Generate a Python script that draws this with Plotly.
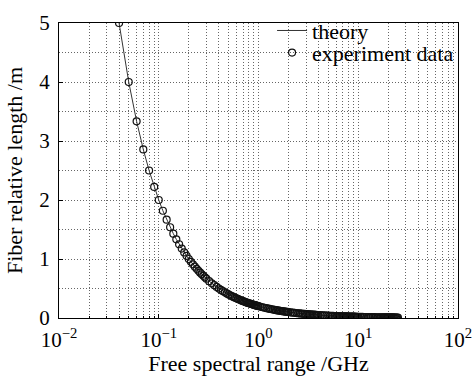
import plotly.graph_objects as go

# Experimental data: free spectral range (GHz) and fiber relative length (m)
fsr_ghz = [
    0.04, 0.05, 0.06, 0.07, 0.08, 0.09, 0.10, 0.11, 0.12, 0.13, 0.14, 0.15, 0.16, 0.17, 0.18, 0.19,
    0.20, 0.21, 0.22, 0.23, 0.24, 0.25, 0.26, 0.27, 0.28, 0.29, 0.30,
    0.32, 0.34, 0.36, 0.38, 0.40, 0.42, 0.44, 0.46, 0.48, 0.50, 0.52, 0.54, 0.56, 0.58, 0.60,
    0.62, 0.64, 0.66, 0.68, 0.70, 0.72, 0.74, 0.76, 0.78, 0.80, 0.82, 0.84, 0.86, 0.88, 0.90,
    0.92, 0.94, 0.96, 0.98, 1.00,
    1.05, 1.10, 1.15, 1.20, 1.25, 1.30, 1.35, 1.40, 1.45, 1.50, 1.55, 1.60, 1.65, 1.70, 1.75,
    1.80, 1.85, 1.90, 1.95, 2.00,
    2.1, 2.2, 2.3, 2.4, 2.5, 2.6, 2.7, 2.8, 2.9, 3.0, 3.1, 3.2, 3.3, 3.4, 3.5, 3.6, 3.7, 3.8, 3.9, 4.0,
    4.2, 4.4, 4.6, 4.8, 5.0, 5.2, 5.4, 5.6, 5.8, 6.0, 6.2, 6.4, 6.6, 6.8, 7.0, 7.2, 7.4, 7.6, 7.8,
    8.0, 8.2, 8.4, 8.6, 8.8, 9.0, 9.2, 9.4, 9.6, 9.8, 10.0,
    10.5, 11.0, 11.5, 12.0, 12.5, 13.0, 13.5, 14.0, 14.5, 15.0, 15.5, 16.0, 16.5, 17.0, 17.5,
    18.0, 18.5, 19.0, 19.5, 20.0, 20.5, 21.0, 21.5, 22.0, 22.5, 23.0, 23.5, 24.0, 24.5, 25.0,
]
length_m = [
    5.000, 4.000, 3.333, 2.857, 2.500, 2.222, 2.000, 1.818, 1.667, 1.538, 1.429, 1.333, 1.250, 1.176, 1.111, 1.053,
    1.000, 0.952, 0.909, 0.870, 0.833, 0.800, 0.769, 0.741, 0.714, 0.690, 0.667,
    0.625, 0.588, 0.556, 0.526, 0.500, 0.476, 0.455, 0.435, 0.417, 0.400, 0.385, 0.370, 0.357, 0.345, 0.333,
    0.323, 0.313, 0.303, 0.294, 0.286, 0.278, 0.270, 0.263, 0.256, 0.250, 0.244, 0.238, 0.233, 0.227, 0.222,
    0.217, 0.213, 0.208, 0.204, 0.200,
    0.190, 0.182, 0.174, 0.167, 0.160, 0.154, 0.148, 0.143, 0.138, 0.133, 0.129, 0.125, 0.121, 0.118, 0.114,
    0.111, 0.108, 0.105, 0.103, 0.100,
    0.095, 0.091, 0.087, 0.083, 0.080, 0.077, 0.074, 0.071, 0.069, 0.067, 0.065, 0.063, 0.061, 0.059, 0.057, 0.056, 0.054, 0.053, 0.051, 0.050,
    0.048, 0.045, 0.043, 0.042, 0.040, 0.038, 0.037, 0.036, 0.034, 0.033, 0.032, 0.031, 0.030, 0.029, 0.029, 0.028, 0.027, 0.026, 0.026,
    0.025, 0.024, 0.024, 0.023, 0.023, 0.022, 0.022, 0.021, 0.021, 0.020, 0.020,
    0.019, 0.018, 0.017, 0.017, 0.016, 0.015, 0.015, 0.014, 0.014, 0.013, 0.013, 0.0125, 0.012, 0.012, 0.011,
    0.011, 0.011, 0.011, 0.010, 0.010, 0.010, 0.0095, 0.0093, 0.0091, 0.0089, 0.0087, 0.0085, 0.0083, 0.0082, 0.008,
]

# Theory curve sampled at the same frequencies
theory_fsr = fsr_ghz
theory_len = length_m

x_tickvals = [0.01, 0.1, 1, 10, 100]
x_ticktext = ["10<sup>\u22122</sup>", "10<sup>\u22121</sup>", "10<sup>0</sup>", "10<sup>1</sup>", "10<sup>2</sup>"]
y_tickvals = [0, 1, 2, 3, 4, 5]

FONT = "Liberation Serif, Times New Roman, DejaVu Serif"
FS = 22
TFS = 21
GRIDC = "#666666"
DASH = "1px,2px"

fig = go.Figure()
fig.add_trace(go.Scatter(
    x=theory_fsr, y=theory_len, mode="lines", name="theory", legend="legend",
    line=dict(color="#333333", width=1),
))
fig.add_trace(go.Scatter(
    x=fsr_ghz, y=length_m, mode="markers", name="experiment data", legend="legend2",
    marker=dict(symbol="circle-open", size=7, color="#111111", line=dict(width=1.2, color="#111111")),
))

grid = dict(showgrid=True, gridcolor=GRIDC, griddash=DASH, gridwidth=1)
leg = dict(xanchor="left", yanchor="middle", bgcolor="rgba(0,0,0,0)", borderwidth=0,
           font=dict(family=FONT, size=FS, color="black"), itemwidth=30)

fig.update_layout(
    width=472, height=376,
    margin=dict(l=59, r=14, t=10, b=58),
    paper_bgcolor="white", plot_bgcolor="white",
    font=dict(family=FONT, size=FS, color="black"),
    showlegend=True,
    legend=dict(x=0.534, y=0.974, **leg),
    legend2=dict(x=0.534, y=0.899, **leg),
    xaxis=dict(
        type="log", range=[-2, 2], automargin=False,
        tickvals=x_tickvals, ticktext=x_ticktext,
        showline=True, linecolor="black", linewidth=1, mirror=True,
        ticks="inside", ticklen=4, tickcolor="black",
        zeroline=False, ticklabeloverflow="allow", ticklabelstandoff=3,
        tickfont=dict(family=FONT, size=TFS),
        title=dict(text="Free spectral range /GHz", font=dict(family=FONT, size=FS), standoff=2),
        minor=dict(dtick="D1", showgrid=True, gridcolor=GRIDC, griddash=DASH, gridwidth=1,
                   ticks="inside", ticklen=2, tickcolor="black"),
        **grid,
    ),
    yaxis=dict(
        range=[0, 5], automargin=False,
        tickvals=y_tickvals,
        showline=True, linecolor="black", linewidth=1, mirror=True,
        ticks="inside", ticklen=4, tickcolor="black",
        zeroline=False, ticklabelstandoff=4, ticklabeloverflow="allow",
        tickfont=dict(family=FONT, size=TFS),
        title=dict(text="Fiber relative length /m", font=dict(family=FONT, size=FS), standoff=10),
        minor=dict(dtick=0.5, showgrid=True, gridcolor=GRIDC, griddash=DASH, gridwidth=1),
        **grid,
    ),
)

fig.write_html("out.html")
